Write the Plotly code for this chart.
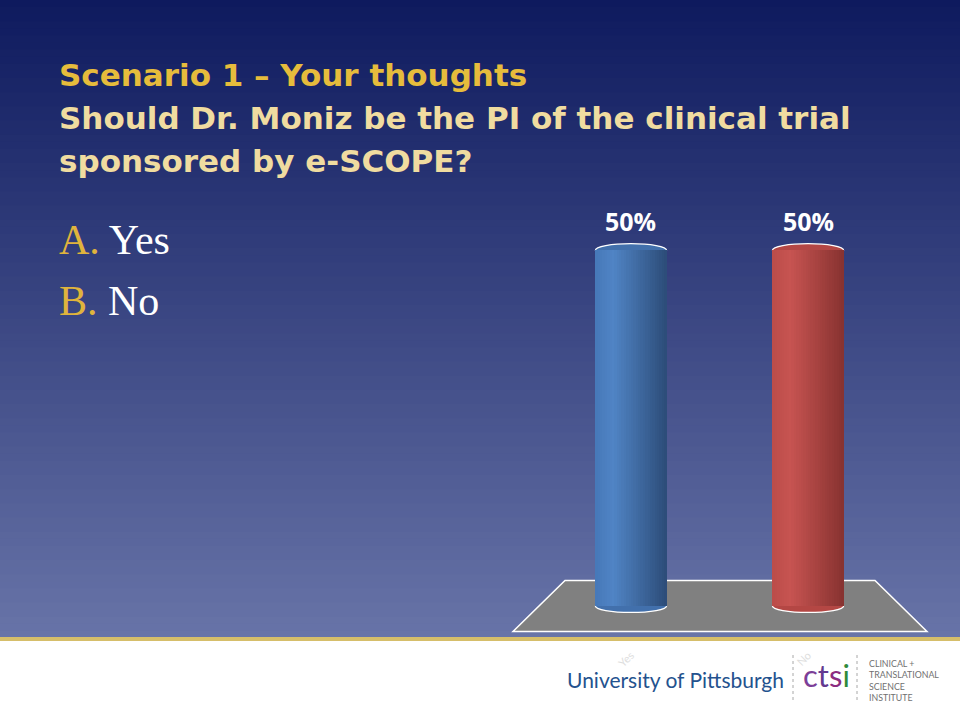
import plotly.graph_objects as go

# ---------------- data ----------------
categories = ["Yes", "No"]
values = [50, 50]
value_labels = ["50%", "50%"]
answer_letters = ["A.", "B."]
answer_texts = ["Yes", "No"]
title_lines = [
    "Scenario 1 – Your thoughts",
    "Should Dr. Moniz be the PI of the clinical trial",
    "sponsored by e-SCOPE?",
]
institute_lines = ["CLINICAL +", "TRANSLATIONAL", "SCIENCE", "INSTITUTE"]

# ---------------- helpers ----------------
W, H = 960, 720


def px(x):
    return x / W


def py(y):
    return 1 - y / H


def mix(c1, c2, t):
    return tuple(c1[i] + (c2[i] - c1[i]) * t for i in range(3))


def rgb(c):
    return "rgb(%d,%d,%d)" % tuple(int(round(v)) for v in c)


def profile(left, hi, right, t):
    if t < 0.25:
        return mix(left, hi, t / 0.25)
    return mix(hi, right, (t - 0.25) / 0.75)


fig = go.Figure()
shapes = []

# background gradient (each band runs to the bottom so no seams appear)
top_c = (0x0E, 0x1A, 0x5E)
bot_c = (0x68, 0x74, 0xA8)
NB = 90
y_end = 638.0
for i in range(NB):
    y0 = y_end * i / NB
    c = mix(top_c, bot_c, (i + 0.5) / NB)
    shapes.append(dict(type="rect", xref="paper", yref="paper", x0=0, x1=1,
                       y0=py(y_end), y1=py(y0), fillcolor=rgb(c),
                       line_width=0, layer="below"))
# gold rule
shapes.append(dict(type="rect", xref="paper", yref="paper", x0=0, x1=1,
                   y0=py(641), y1=py(637), fillcolor="#D6BE6A", line_width=0, layer="below"))

# floor
floor_path = "M {a},{b} L {c},{b} L {d},{e} L {f},{e} Z".format(
    a=px(565), b=py(580.5), c=px(875), d=px(927), e=py(631.5), f=px(513))
shapes.append(dict(type="path", xref="paper", yref="paper", path=floor_path,
                   fillcolor="#808080", line=dict(color="white", width=1.5), layer="below"))

# footer separators
for xs in (793, 857):
    shapes.append(dict(type="line", xref="paper", yref="paper", x0=px(xs), x1=px(xs),
                       y0=py(700), y1=py(655), line=dict(color="#A8A8A8", width=1, dash="dot")))

# ---------------- cylinders ----------------
bw = 0.402
ry = 0.91
NS = 30
blue = ((0x46, 0x78, 0xB8), (0x50, 0x84, 0xC5), (0x2C, 0x4C, 0x78))
red = ((0xBB, 0x4C, 0x49), (0xC7, 0x54, 0x51), (0x87, 0x32, 0x30))
cap_cols = [rgb((0x42, 0x70, 0xAC)), rgb((0xB4, 0x47, 0x44))]

for i, v in enumerate(values):
    shapes.append(dict(type="circle", xref="x", yref="y", x0=i - bw / 2, x1=i + bw / 2,
                       y0=-ry, y1=ry, fillcolor=cap_cols[i],
                       line=dict(color="white", width=1.3), layer="below"))
    shapes.append(dict(type="circle", xref="x", yref="y", x0=i - bw / 2, x1=i + bw / 2,
                       y0=v - ry, y1=v + ry, fillcolor=cap_cols[i],
                       line=dict(color="white", width=1.3), layer="below"))

sw = bw / NS
for k in range(NS):
    t = (k + 0.5) / NS
    cols = [rgb(profile(*blue, t)), rgb(profile(*red, t))]
    fig.add_trace(go.Bar(
        x=categories, y=values, base=0,
        width=sw * (1.0 if k == NS - 1 else 1.25), offset=-bw / 2 + k * sw,
        marker=dict(color=cols, line_width=0),
        hoverinfo="skip", showlegend=False))

annotations = []
for i, (v, lab) in enumerate(zip(values, value_labels)):
    annotations.append(dict(x=i, y=v, xref="x", yref="y", text="<b>%s</b>" % lab,
                            showarrow=False, yanchor="middle", yshift=29,
                            font=dict(family="Open Sans", size=25, color="white")))

# title
title_y = [75, 118, 161]
title_cols = ["#E6BC3C", "#F0DCA0", "#F0DCA0"]
for line, yy, col in zip(title_lines, title_y, title_cols):
    annotations.append(dict(x=px(57), y=py(yy), xref="paper", yref="paper", text="<b>%s</b>" % line,
                            xanchor="left", yanchor="middle", showarrow=False,
                            font=dict(family="DejaVu Sans", size=31, color=col)))

# answers
ans_y = [240, 301]
for let, txt, yy in zip(answer_letters, answer_texts, ans_y):
    annotations.append(dict(x=px(57), y=py(yy), xref="paper", yref="paper",
                            text='<span style="color:#E0B43C">%s</span> %s' % (let, txt),
                            xanchor="left", yanchor="middle", showarrow=False,
                            font=dict(family="Liberation Serif", size=42, color="white")))

# footer logo
annotations.append(dict(x=px(565), y=py(679), xref="paper", yref="paper",
                        text="University of Pittsburgh", xanchor="left", yanchor="middle",
                        showarrow=False, font=dict(family="Lato", size=21, color="#24528E")))
annotations.append(dict(x=px(801), y=py(675), xref="paper", yref="paper",
                        text='<span style="color:#7C3E98">c</span><span style="color:#633A90">t</span>'
                             '<span style="color:#8C2C80">s</span><span style="color:#2F8A3B">i</span>',
                        xanchor="left", yanchor="middle", showarrow=False,
                        font=dict(family="Lato", size=31, color="#7C3E98")))
annotations.append(dict(x=px(867), y=py(680.5), xref="paper", yref="paper",
                        text="<br>".join(institute_lines), align="left",
                        xanchor="left", yanchor="middle", showarrow=False,
                        font=dict(family="Lato", size=8.8, color="#707070")))

fig.update_layout(
    width=W, height=H,
    margin=dict(l=0, r=0, t=0, b=0),
    paper_bgcolor="white", plot_bgcolor="rgba(0,0,0,0)",
    barmode="overlay", bargap=0,
    shapes=shapes, annotations=annotations,
    xaxis=dict(domain=[px(507), px(932)], range=[-0.7, 1.7], showgrid=False, zeroline=False,
               showline=False, ticks="", tickangle=-45, ticklabelstandoff=8,
               tickfont=dict(family="Lato", size=11, color="#DEDEDE"), fixedrange=True),
    yaxis=dict(domain=[py(638), py(179)], range=[-4.5, 60], visible=False, fixedrange=True),
    showlegend=False,
)

fig.write_html("out.html", config={"displayModeBar": False},
               post_script="document.body.style.margin='0px';document.body.style.overflow='hidden';")
